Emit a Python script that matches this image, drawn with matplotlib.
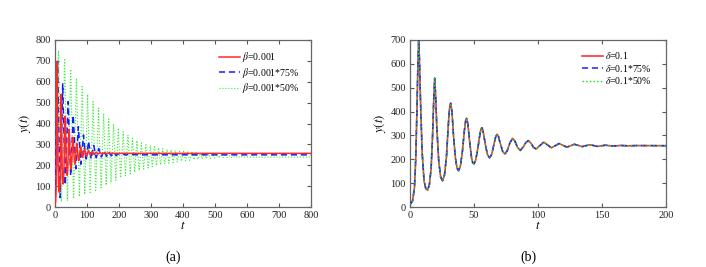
import matplotlib
matplotlib.use("Agg")
import matplotlib.pyplot as plt

plt.rcParams['font.family'] = ['Liberation Serif', 'DejaVu Serif']
plt.rcParams['mathtext.fontset'] = 'stix'

# baseline curve (beta=0.001, delta=0.1), extended to t=800
t_base = [0, 2, 3.5, 4.5, 5.5, 6.2, 6.8, 7.4, 8.2, 9.5, 11, 12.3, 13.8, 15.2, 16.5,
          17.6, 18.5, 19.3, 20.1, 21, 22.5, 24, 25.5, 27, 28.5, 29.8, 30.8, 31.8,
          32.8, 34, 35.5, 36.8, 38, 39.5, 41, 42.5, 43.5, 44.3, 45.3, 46.5, 48, 49,
          50, 51.3, 53, 54.5, 55.5, 56.3, 57.3, 58.8, 60.5, 62.2, 63.8, 65.5, 67, 68,
          69, 70.5, 72.5, 74.2, 76, 78, 80.2, 82, 84, 86.2, 88.5, 90.5, 92.4, 94.5,
          96.5, 98.5, 104.5, 110.5, 116.5, 122.5, 128.5, 134.5, 140.5, 146.5, 152.5,
          158.5, 164.5, 170.5, 176.5, 200, 800]
y_base = [10, 25, 80, 200, 420, 600, 697, 620, 450, 230, 110, 78, 70, 95, 160,
          290, 440, 540, 460, 330, 190, 125, 110, 135, 210, 330, 410, 435,
          400, 300, 205, 162, 152, 175, 235, 320, 362, 372, 345, 280, 210, 186,
          181, 195, 245, 300, 328, 332, 312, 265, 220, 206, 220, 260, 295, 305,
          298, 268, 232, 222, 236, 268, 288, 276, 250, 237, 252, 270, 278, 268,
          250, 243, 272, 248, 266, 251, 263, 253, 261, 254, 259,
          255.5, 258, 256.5, 257.5, 257, 257]

# beta = 0.001*75%
t_b75 = [0, 8, 16, 24, 32, 41, 49, 57, 65, 73, 81, 89, 97, 105, 113, 121, 129, 137,
         145, 153, 161, 168, 176, 183, 191, 198, 206, 213, 221, 228, 236, 243, 260, 800]
y_b75 = [10, 697, 45, 590, 105, 505, 150, 440, 183, 385, 205, 345, 220, 315, 230, 295,
         236, 280, 240, 270, 243, 264, 245, 259, 246.5, 256, 247.5, 254, 248.5, 252.5,
         249, 251.5, 250, 250]

# beta = 0.001*50%
t_b50 = [0, 11, 20, 30, 39, 49, 58, 67, 76, 85, 93, 102, 110, 119, 127, 136, 144, 152,
         160, 168, 175, 183, 190, 198, 205, 213, 220, 228, 235, 242, 249, 256, 263, 270,
         277, 284, 291, 298, 304, 311, 317, 324, 330, 337, 343, 350, 356, 363, 369, 376,
         382, 389, 395, 402, 408, 415, 421, 428, 434, 441, 447, 454, 460, 467, 473, 480,
         486, 493, 499, 506, 512, 519, 525, 532, 538, 545, 551, 558, 564, 571, 577, 584,
         590, 597, 620, 800]
y_b50 = [10, 750, 25, 705, 30, 660, 40, 617, 50, 577, 60, 540, 70, 505, 80, 474, 92, 447,
         104, 421, 116, 398, 128, 378, 140, 360, 150, 344, 159, 330, 167, 318, 175, 307,
         182, 298, 187, 295, 193, 289, 198, 284, 202, 280, 206, 277, 210, 274, 213, 271,
         216, 268, 219, 266, 222, 264, 224, 262, 226, 260, 228, 258, 230, 256, 232, 254,
         233, 252, 234, 250, 235, 249, 236, 247, 236.5, 246, 237, 244, 237.5, 243, 238, 242,
         238, 241, 239, 239]

labels_a = [r'$\beta$=0.001', r'$\beta$=0.001*75%', r'$\beta$=0.001*50%']
labels_b = [r'$\delta$=0.1', r'$\delta$=0.1*75%', r'$\delta$=0.1*50%']

fig = plt.figure(figsize=(7.06, 2.67), dpi=100)
ax1 = fig.add_axes([0.0779, 0.2247, 0.3626, 0.6255])
ax2 = fig.add_axes([0.5807, 0.2247, 0.3626, 0.6255])


def style(ax):
    for s in ax.spines.values():
        s.set_color('#666666')
        s.set_linewidth(0.9)
    ax.tick_params(direction='in', top=True, right=True, length=3, width=0.8,
                   color='#555555', labelsize=7.5, labelcolor='#222222', pad=3)
    ax.set_xlabel('$t$', fontsize=9, labelpad=0)
    ax.set_ylabel('$y(t)$', fontsize=9, labelpad=2)


# (a)
ax1.plot(t_b50, y_b50, color='#33ee33', ls=':', lw=0.8, label=labels_a[2], zorder=2)
ax1.plot(t_b75, y_b75, color='#1a1aff', ls=(0, (4, 2.5)), lw=1.1, label=labels_a[1], zorder=3)
ax1.plot(t_base, y_base, color='#ff2a2a', lw=1.1, label=labels_a[0], zorder=4)
ax1.set_xlim(0, 800)
ax1.set_ylim(0, 800)
ax1.set_xticks(range(0, 801, 100))
ax1.set_yticks(range(0, 801, 100))
style(ax1)
h, l = ax1.get_legend_handles_labels()
ax1.legend(h[::-1], l[::-1], loc='upper right', frameon=False, fontsize=7,
           handlelength=2.2, handletextpad=0.2, labelspacing=0.15,
           borderaxespad=0.5, bbox_to_anchor=(0.99, 0.99))

# (b)
ax2.plot(t_base, y_base, color='#ff3333', lw=1.2, label=labels_b[0], zorder=2)
ax2.plot(t_base, y_base, color='#2222ff', ls=(0, (4, 2.5)), lw=1.1, label=labels_b[1], zorder=3)
ax2.plot(t_base, y_base, color='#11dd11', ls=':', lw=1.0, label=labels_b[2], zorder=4)
ax2.set_xlim(0, 200)
ax2.set_ylim(0, 700)
ax2.set_xticks(range(0, 201, 50))
ax2.set_yticks(range(0, 701, 100))
style(ax2)
ax2.legend(loc='upper right', frameon=False, fontsize=7,
           handlelength=2.2, handletextpad=0.2, labelspacing=0.15,
           borderaxespad=0.5, bbox_to_anchor=(0.98, 0.99))

fig.text(0.245, 0.035, '(a)', ha='center', va='center', fontsize=10)
fig.text(0.748, 0.035, '(b)', ha='center', va='center', fontsize=10)

fig.savefig('out.png', dpi=100)
